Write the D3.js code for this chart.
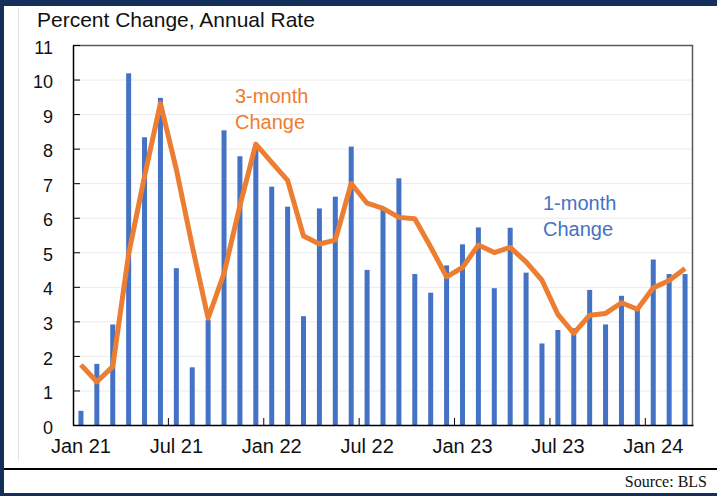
<!DOCTYPE html>
<html>
<head>
<meta charset="utf-8">
<script src="https://cdn.jsdelivr.net/npm/d3@7"></script>
<style>
  body { margin: 0; background: #fff; }
  svg { display: block; font-family: "Liberation Sans", Arial, sans-serif; }
</style>
</head>
<body>
<svg id="chart" width="717" height="496"></svg>
<script>
// months Jan 21 .. Mar 24
var months = ['Jan 21', 'Feb 21', 'Mar 21', 'Apr 21', 'May 21', 'Jun 21',
    'Jul 21', 'Aug 21', 'Sep 21', 'Oct 21', 'Nov 21', 'Dec 21',
    'Jan 22', 'Feb 22', 'Mar 22', 'Apr 22', 'May 22', 'Jun 22',
    'Jul 22', 'Aug 22', 'Sep 22', 'Oct 22', 'Nov 22', 'Dec 22',
    'Jan 23', 'Feb 23', 'Mar 23', 'Apr 23', 'May 23', 'Jun 23',
    'Jul 23', 'Aug 23', 'Sep 23', 'Oct 23', 'Nov 23', 'Dec 23',
    'Jan 24', 'Feb 24', 'Mar 24'];

// 1-month change, annual rate
var oneMonth = [0.41, 1.77, 2.91, 10.18, 8.33, 9.47,
    4.54, 1.67, 3.04, 8.53, 7.78, 7.98,
    6.9, 6.32, 3.15, 6.27, 6.61, 8.06,
    4.49, 6.22, 7.14, 4.37, 3.83, 4.62,
    5.23, 5.72, 3.96, 5.71, 4.41, 2.36,
    2.75, 2.8, 3.91, 2.91, 3.74, 3.35,
    4.79, 4.37, 4.37];

// 3-month change, annual rate
var threeMonth = [1.74, 1.25, 1.69, 4.95, 7.2, 9.31,
    7.4, 5.18, 3.09, 4.39, 6.35, 8.13,
    7.6, 7.08, 5.47, 5.24, 5.35, 6.99,
    6.42, 6.27, 6.01, 5.97, 5.15, 4.29,
    4.56, 5.21, 4.99, 5.14, 4.72, 4.19,
    3.2, 2.65, 3.18, 3.23, 3.54, 3.35,
    3.97, 4.18, 4.53];

var xTickLabels = ['Jan 21', 'Jul 21', 'Jan 22', 'Jul 22', 'Jan 23', 'Jul 23', 'Jan 24'];
var yTicks = [0, 1, 2, 3, 4, 5, 6, 7, 8, 9, 10, 11];

var navy = '#14305a';
var blue = '#4472c4';
var orange = '#ed7d31';

var svg = d3.select('#chart');
var margin = {left: 73, top: 45, right: 24, bottom: 71};
var w = 717 - margin.left - margin.right;
var h = 496 - margin.top - margin.bottom;

// frame
svg.append('rect').attr('x', 0).attr('y', 0).attr('width', 717).attr('height', 6).attr('fill', navy);
svg.append('rect').attr('x', 0).attr('y', 0).attr('width', 4).attr('height', 496).attr('fill', navy);
svg.append('rect').attr('x', 0).attr('y', 493).attr('width', 717).attr('height', 3).attr('fill', navy);
svg.append('line').attr('x1', 4).attr('x2', 717).attr('y1', 469).attr('y2', 469)
    .attr('stroke', '#000').attr('stroke-width', 2);
svg.append('line').attr('x1', 18.5).attr('x2', 18.5).attr('y1', 7).attr('y2', 461)
    .attr('stroke', '#e3e3e3').attr('stroke-width', 1);

svg.append('text').attr('x', 37).attr('y', 27)
    .attr('font-size', 21).attr('fill', '#111')
    .text('Percent Change, Annual Rate');

svg.append('text').attr('x', 707).attr('y', 487)
    .attr('text-anchor', 'end')
    .attr('font-family', '"Liberation Serif", "Times New Roman", serif')
    .attr('font-size', 16).attr('fill', '#111')
    .text('Source: BLS');

var g = svg.append('g').attr('transform', 'translate(' + margin.left + ',' + margin.top + ')');

var x = d3.scaleBand().domain(months).range([0, w]).padding(0);
var y = d3.scaleLinear().domain([0, 11]).range([h, 0]);

// grid
g.append('g').selectAll('line').data(yTicks.slice(1)).enter().append('line')
    .attr('x1', 0).attr('x2', w)
    .attr('y1', function (d) { return y(d) + 0.5; })
    .attr('y2', function (d) { return y(d) + 0.5; })
    .attr('stroke', '#ebebeb').attr('stroke-width', 1);

// plot frame top/right
g.append('path').attr('d', 'M0,0.5H' + (w - 0.5) + 'V' + h)
    .attr('fill', 'none').attr('stroke', '#5a5a5a').attr('stroke-width', 1.5);

// bars
var barW = 5;
g.append('g').selectAll('rect').data(oneMonth).enter().append('rect')
    .attr('x', function (d, i) { return x(months[i]) + x.bandwidth() / 2 - barW / 2; })
    .attr('y', function (d) { return y(d); })
    .attr('width', barW)
    .attr('height', function (d) { return h - y(d); })
    .attr('fill', blue);

// 3-month line
var line = d3.line()
    .x(function (d, i) { return x(months[i]) + x.bandwidth() / 2; })
    .y(function (d) { return y(d); });
g.append('path').datum(threeMonth).attr('d', line)
    .attr('fill', 'none').attr('stroke', orange)
    .attr('stroke-width', 5).attr('stroke-linejoin', 'round');

// y axis
var yAxis = g.append('g').call(d3.axisLeft(y).tickValues(yTicks).tickSize(-7).tickSizeOuter(0).tickPadding(20));
yAxis.select('.domain').attr('stroke', '#000').attr('stroke-width', 1.5);
yAxis.selectAll('.tick line').attr('stroke', '#000');
yAxis.selectAll('.tick text').attr('font-size', 18).attr('fill', '#111')
    .attr('font-family', '"Liberation Sans", Arial, sans-serif').attr('dy', '0.45em');

// x axis: labels centred on the month, ticks on the boundaries
var xAxis = g.append('g').attr('transform', 'translate(0,' + h + ')')
    .call(d3.axisBottom(x).tickValues(xTickLabels).tickSize(0).tickPadding(14));
xAxis.select('.domain').attr('stroke', '#000').attr('stroke-width', 1.5);
xAxis.selectAll('.tick text').attr('font-size', 20).attr('fill', '#111')
    .attr('font-family', '"Liberation Sans", Arial, sans-serif');

g.append('g').selectAll('line').data(xTickLabels.slice(1)).enter().append('line')
    .attr('x1', function (d) { return x(d); })
    .attr('x2', function (d) { return x(d); })
    .attr('y1', h).attr('y2', h - 7)
    .attr('stroke', '#000').attr('stroke-width', 1);

// series labels
var lab3 = svg.append('text').attr('font-size', 20).attr('fill', orange);
lab3.append('tspan').attr('x', 235).attr('y', 103).text('3-month');
lab3.append('tspan').attr('x', 235).attr('y', 129).text('Change');

var lab1 = svg.append('text').attr('font-size', 20).attr('fill', blue);
lab1.append('tspan').attr('x', 543).attr('y', 210).text('1-month');
lab1.append('tspan').attr('x', 543).attr('y', 236).text('Change');
</script>
</body>
</html>
